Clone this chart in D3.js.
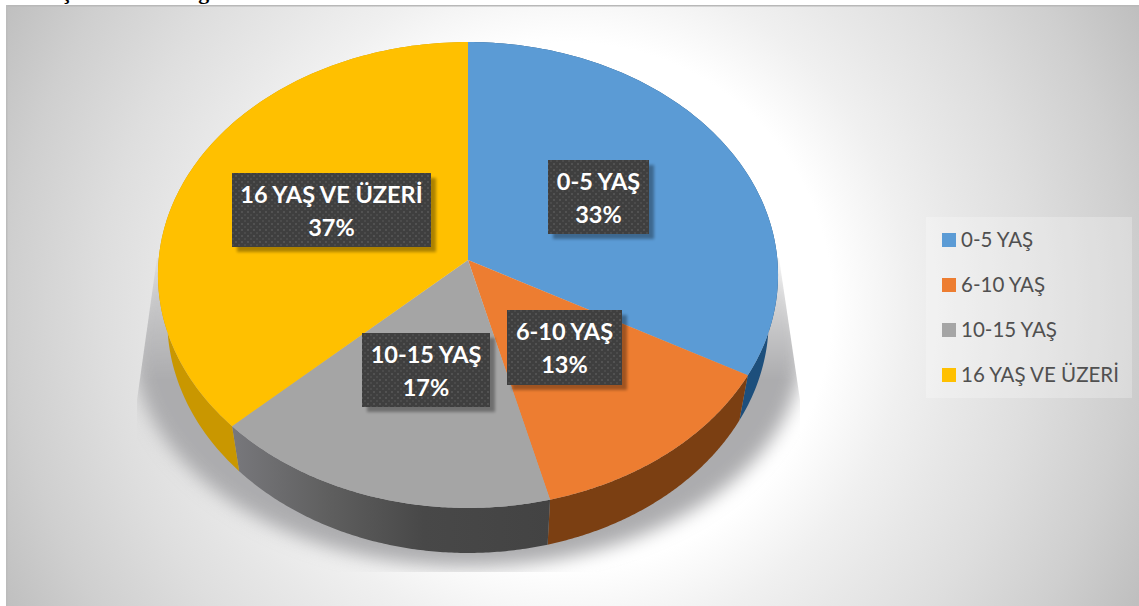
<!DOCTYPE html>
<html><head><meta charset="utf-8">
<script src="https://cdn.jsdelivr.net/npm/d3@7"></script>
<style>html,body{margin:0;padding:0;background:#fff}svg{display:block}</style>
</head><body><div id="chart"></div>
<script>
const categories = ["0-5 YAŞ", "6-10 YAŞ", "10-15 YAŞ", "16 YAŞ VE ÜZERİ"];
const values = [33, 13, 17, 37];
const topColors = ["#5b9bd5", "#ed7d31", "#a5a5a5", "#ffc000"];
const sideColors = ["#1d4f7c", "#7b3f12", "url(#greySide)", "#c99700"];
const titleText = "Yaş Aralıklarına göre";

const W = 1139, H = 606;
const svg = d3.select("#chart").append("svg").attr("width", W).attr("height", H);
const defs = svg.append("defs");

const bg = defs.append("radialGradient").attr("id", "bg").attr("gradientUnits", "userSpaceOnUse")
  .attr("cx", 570).attr("cy", 305).attr("r", 640);
[[0, "#ffffff"], [0.41, "#ffffff"], [0.53, "#f0f0f0"], [0.615, "#e8e8e8"], [0.73, "#dedede"], [0.875, "#cfcfcf"], [1, "#bfbfbf"]]
  .forEach(([o, c]) => bg.append("stop").attr("offset", o).attr("stop-color", c));

const gs = defs.append("linearGradient").attr("id", "greySide").attr("gradientUnits", "userSpaceOnUse")
  .attr("x1", 232).attr("x2", 552).attr("y1", 0).attr("y2", 0);
[[0, "#78787c"], [0.3, "#5f5f5f"], [0.6, "#484848"], [1, "#434343"]]
  .forEach(([o, c]) => gs.append("stop").attr("offset", o).attr("stop-color", c));

const fade = defs.append("linearGradient").attr("id", "shadowFade").attr("gradientUnits", "userSpaceOnUse")
  .attr("x1", 0).attr("x2", 0).attr("y1", 258).attr("y2", 380);
[[0, "#444"], [1, "#fff"]].forEach(([o, c]) => fade.append("stop").attr("offset", o).attr("stop-color", c));
defs.append("mask").attr("id", "shadowMask").attr("maskUnits", "userSpaceOnUse")
  .attr("x", 0).attr("y", 0).attr("width", W).attr("height", H)
  .append("rect").attr("width", W).attr("height", H).attr("fill", "url(#shadowFade)");

defs.append("filter").attr("id", "blur").attr("x", "-20%").attr("y", "-20%").attr("width", "140%").attr("height", "140%")
  .append("feGaussianBlur").attr("stdDeviation", 9);
defs.append("filter").attr("id", "boxBlur").attr("x", "-10%").attr("y", "-20%").attr("width", "120%").attr("height", "140%")
  .append("feGaussianBlur").attr("stdDeviation", 1.6);
defs.append("clipPath").attr("id", "shadowClip").append("polygon")
  .attr("points", "157,258 779,258 800,400 800,572 137,572 137,400");

const pat = defs.append("pattern").attr("id", "dots").attr("patternUnits", "userSpaceOnUse")
  .attr("width", 6).attr("height", 6);
pat.append("rect").attr("width", 6).attr("height", 6).attr("fill", "#3f3f3f");
pat.append("rect").attr("x", 1).attr("y", 1).attr("width", 2).attr("height", 2).attr("fill", "#525252");
pat.append("rect").attr("x", 4).attr("y", 4).attr("width", 2).attr("height", 2).attr("fill", "#4b4b4b");

// background panel
svg.append("rect").attr("x", 6).attr("y", 5).attr("width", W - 6).attr("height", H - 5).attr("fill", "url(#bg)");
svg.append("rect").attr("x", 6).attr("y", 5).attr("width", W - 6).attr("height", 1.5).attr("fill", "#b8b8b8");
svg.append("rect").attr("x", 6).attr("y", 5).attr("width", 1.5).attr("height", H - 5).attr("fill", "#bcbcbc");

// clipped line of the document title above the chart
svg.append("text").text(titleText).attr("x", 38).attr("y", -1)
  .attr("font-family", "'Liberation Serif'").attr("font-weight", "bold").attr("font-size", 22).attr("fill", "#000");

// perspective model of the pie disc
const persp = 0.0644;
const sx = d3.scaleLinear().domain([-1, 1]).range([468 - 309.4, 468 + 309.4]);
const sy = d3.scaleLinear().domain([-1, 1]).range([260 - 232, 260 + 232]);
const depth = 45, shrink = 0.97;
function topPt(a) {
  const u = Math.sin(a), v = -Math.cos(a), w = 1 - persp * v;
  return [sx(u / w), sy(v / w)];
}
function botPt(a) {
  const p = topPt(a);
  return [468 + (p[0] - 468) * shrink, p[1] + depth];
}
const arcs = d3.pie().sort(null).value(d => d)(values);
const steps = a => d3.range(0, 121).map(i => a.startAngle + (a.endAngle - a.startAngle) * i / 120);
const line = d3.line();

// shadow
svg.append("g").attr("mask", "url(#shadowMask)").append("g").attr("clip-path", "url(#shadowClip)")
  .append("ellipse").attr("cx", 468).attr("cy", 345).attr("rx", 335).attr("ry", 222)
  .attr("fill", "#acacae").attr("filter", "url(#blur)");

// side walls
svg.append("g").selectAll("path").data(arcs).join("path")
  .attr("d", d => {
    const s = steps(d);
    return line(s.map(topPt).concat(s.slice().reverse().map(botPt))) + "Z";
  })
  .attr("fill", (d, i) => sideColors[i]);

// top face
svg.append("g").selectAll("path").data(arcs).join("path")
  .attr("d", d => line([[sx(0), sy(0)]].concat(steps(d).map(topPt))) + "Z")
  .attr("fill", (d, i) => topColors[i]);

// data labels
const labelBoxes = [
  {x: 548, y: 160, w: 101, h: 74},
  {x: 507, y: 310, w: 115, h: 75},
  {x: 362, y: 333, w: 128, h: 74},
  {x: 232, y: 173, w: 199, h: 74}
];
const lab = svg.append("g").selectAll("g").data(arcs).join("g");
lab.append("rect").attr("x", (d, i) => labelBoxes[i].x + 5).attr("y", (d, i) => labelBoxes[i].y + 5)
  .attr("width", (d, i) => labelBoxes[i].w).attr("height", (d, i) => labelBoxes[i].h)
  .attr("fill", "#000").attr("opacity", 0.32).attr("filter", "url(#boxBlur)");
lab.append("rect").attr("x", (d, i) => labelBoxes[i].x).attr("y", (d, i) => labelBoxes[i].y)
  .attr("width", (d, i) => labelBoxes[i].w).attr("height", (d, i) => labelBoxes[i].h)
  .attr("fill", "url(#dots)");
const labelText = sel => sel.attr("text-anchor", "middle").attr("font-family", "Lato").attr("font-weight", "bold")
  .attr("font-size", 23.5).attr("fill", "#fff");
lab.append("text").text((d, i) => categories[i]).call(labelText)
  .attr("x", (d, i) => labelBoxes[i].x + labelBoxes[i].w / 2).attr("y", (d, i) => labelBoxes[i].y + 30);
lab.append("text").text(d => d.value + "%").call(labelText)
  .attr("x", (d, i) => labelBoxes[i].x + labelBoxes[i].w / 2).attr("y", (d, i) => labelBoxes[i].y + 63);

// legend
svg.append("rect").attr("x", 926).attr("y", 217).attr("width", 206).attr("height", 181)
  .attr("fill", "#fff").attr("opacity", 0.25);
const legendY = d3.scalePoint().domain(categories).range([240, 375]);
const leg = svg.append("g").selectAll("g").data(categories).join("g")
  .attr("transform", d => `translate(0,${legendY(d)})`);
leg.append("rect").attr("x", 942).attr("y", -7).attr("width", 14).attr("height", 14)
  .attr("fill", (d, i) => topColors[i]);
leg.append("text").text(d => d).attr("x", 961).attr("y", 7)
  .attr("font-family", "Lato").attr("font-size", 20.5).attr("fill", "#505050");
</script></body></html>
